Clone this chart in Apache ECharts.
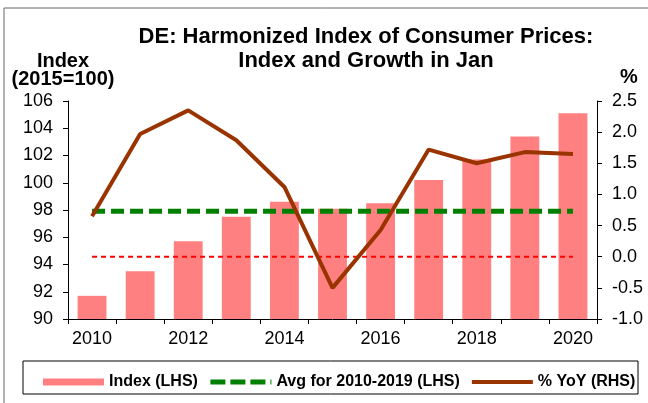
<!DOCTYPE html>
<html>
<head>
<meta charset="utf-8">
<script src="https://cdn.jsdelivr.net/npm/echarts@6/dist/echarts.min.js"></script>
<style>
  html, body { margin: 0; padding: 0; background: #fff; }
  #chart { width: 648px; height: 403px; }
</style>
</head>
<body>
<div id="chart"></div>
<script>
// years on the x axis
const years = ['2010', '2011', '2012', '2013', '2014', '2015', '2016', '2017', '2018', '2019', '2020'];
// HICP index, 2015=100 (LHS)
const indexValues = [91.7, 93.5, 95.7, 97.5, 98.6, 98.1, 98.5, 100.2, 101.7, 103.4, 105.1];
// average for 2010-2019 (LHS)
const avgValues = [97.9, 97.9, 97.9, 97.9, 97.9, 97.9, 97.9, 97.9, 97.9, 97.9, 97.9];
// % YoY (RHS)
const yoyValues = [0.65, 1.97, 2.35, 1.87, 1.12, -0.5, 0.43, 1.72, 1.5, 1.68, 1.65];
// zero reference line (RHS)
const zeroValues = [0, 0, 0, 0, 0, 0, 0, 0, 0, 0, 0];

const font = 'Liberation Sans, Arial, sans-serif';
const chart = echarts.init(document.getElementById('chart'));

const option = {
  animation: false,
  textStyle: { fontFamily: font },
  title: {
    text: 'DE: Harmonized Index of Consumer Prices:\nIndex and Growth in Jan',
    left: 361,
    textAlign: 'center',
    top: 20,
    textStyle: { fontSize: 22, fontWeight: 'bold', color: '#000', lineHeight: 24, fontFamily: font }
  },
  graphic: [
    {
      type: 'rect',
      shape: { x: 4, y: 8, width: 700, height: 500 },
      style: { fill: 'none', stroke: '#666', lineWidth: 1 },
      silent: true
    },
    {
      type: 'rect',
      shape: { x: 23, y: 361, width: 615, height: 33 },
      style: { fill: 'none', stroke: '#000', lineWidth: 1 },
      silent: true
    },
    {
      type: 'text',
      x: 63, y: 52,
      style: { text: 'Index\n(2015=100)', fill: '#000', font: 'bold 20px ' + font, align: 'center', lineHeight: 18 }
    },
    {
      type: 'text',
      x: 620, y: 67,
      style: { text: '%', fill: '#000', font: 'bold 20px ' + font }
    }
  ],
  legend: {
    left: 38,
    top: 369,
    itemGap: 10,
    itemWidth: 61,
    itemHeight: 7,
    data: [
      { name: 'Index (LHS)', icon: 'rect' },
      { name: 'Avg for 2010-2019 (LHS)', itemStyle: { opacity: 0 },
        lineStyle: { width: 5, type: [15, 5] } },
      { name: '% YoY (RHS)', itemStyle: { opacity: 0 }, lineStyle: { width: 4 } }
    ],
    textStyle: { fontSize: 16, fontWeight: 'bold', color: '#000', fontFamily: font }
  },
  grid: { left: 68, right: 51, top: 101, bottom: 84 },
  xAxis: {
    type: 'category',
    data: years,
    boundaryGap: true,
    axisLine: { onZero: false, lineStyle: { color: '#000', width: 1 } },
    axisTick: { show: true, interval: 0, length: 5, lineStyle: { color: '#000' } },
    axisLabel: { interval: 1, color: '#000', fontSize: 18, margin: 11, fontFamily: font }
  },
  yAxis: [
    {
      type: 'value',
      min: 90, max: 106, interval: 2,
      splitLine: { show: false },
      axisLine: { show: true, lineStyle: { color: '#000' } },
      axisTick: { show: true, length: 5, lineStyle: { color: '#000' } },
      axisLabel: { color: '#000', fontSize: 18, margin: 15, fontFamily: font }
    },
    {
      type: 'value',
      min: -1, max: 2.5, interval: 0.5,
      splitLine: { show: false },
      axisLine: { show: true, lineStyle: { color: '#000' } },
      axisTick: { show: true, length: 5, lineStyle: { color: '#000' } },
      axisLabel: { color: '#000', fontSize: 18, margin: 15, fontFamily: font,
        formatter: v => v.toFixed(1) }
    }
  ],
  series: [
    {
      name: 'Index (LHS)',
      type: 'bar',
      data: indexValues,
      barWidth: '60%',
      itemStyle: { color: '#FF8080' }
    },
    {
      name: 'zero',
      type: 'line',
      yAxisIndex: 1,
      data: zeroValues,
      symbol: 'none',
      lineStyle: { color: '#FF0000', width: 2, type: [5, 4] },
      z: 3
    },
    {
      name: 'Avg for 2010-2019 (LHS)',
      type: 'line',
      data: avgValues,
      symbol: 'none',
      lineStyle: { color: '#008000', width: 5, type: [13, 6] },
      itemStyle: { color: '#008000' },
      z: 4
    },
    {
      name: '% YoY (RHS)',
      type: 'line',
      yAxisIndex: 1,
      data: yoyValues,
      symbol: 'none',
      lineStyle: { color: '#993300', width: 4 },
      itemStyle: { color: '#993300' },
      z: 5
    }
  ]
};

chart.setOption(option);
</script>
</body>
</html>
